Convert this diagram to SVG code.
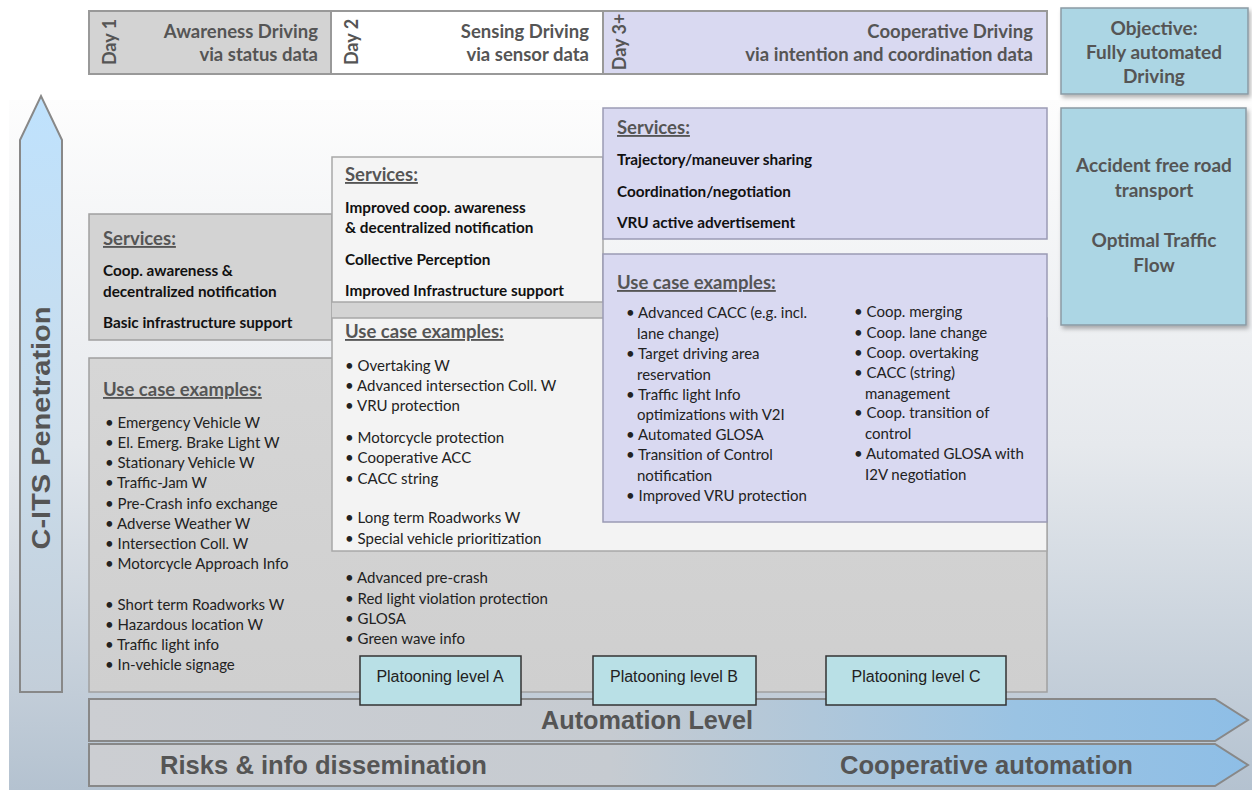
<svg xmlns="http://www.w3.org/2000/svg" width="1252" height="794" viewBox="0 0 1252 794">
<defs>
<linearGradient id="bg" x1="0" y1="0" x2="0" y2="1"><stop offset="0" stop-color="#fdfdfd"/><stop offset="0.5" stop-color="#e6e9ed"/><stop offset="1" stop-color="#b4c2d0"/></linearGradient>
<linearGradient id="vArrow" x1="0" y1="0" x2="0" y2="1"><stop offset="0" stop-color="#bfe2fd"/><stop offset="0.6" stop-color="#c8dbea"/><stop offset="1" stop-color="#c3ced9"/></linearGradient>
<linearGradient id="hArrow" x1="0" y1="0" x2="1" y2="0"><stop offset="0" stop-color="#ccced2"/><stop offset="0.45" stop-color="#c6cbd1"/><stop offset="0.8" stop-color="#9ac3e3"/><stop offset="1" stop-color="#8ebee6"/></linearGradient>
<linearGradient id="grayBox" x1="0" y1="0" x2="0" y2="1"><stop offset="0" stop-color="#d6d6d6"/><stop offset="1" stop-color="#cfcfcf"/></linearGradient>
<filter id="sh" x="-10%" y="-10%" width="125%" height="125%"><feDropShadow dx="2" dy="3" stdDeviation="2" flood-color="#000" flood-opacity="0.3"/></filter>
</defs>
<style>
.hd{font-family:Lato,"Open Sans",sans-serif;font-weight:bold;font-size:18.5px;fill:#555}
.day{font-family:Lato,"Open Sans",sans-serif;font-weight:bold;font-size:18px;fill:#555}
.sv{font-family:Lato,"Open Sans",sans-serif;font-weight:bold;font-size:18.5px;fill:#555;text-decoration:underline}
.si{font-family:Lato,"Open Sans",sans-serif;font-weight:bold;font-size:15.3px;fill:#111}
.it{font-family:Lato,"Open Sans",sans-serif;font-size:15px;fill:#222}
.obj{font-family:Lato,"Open Sans",sans-serif;font-weight:bold;font-size:19px;fill:#555;text-anchor:middle}
.big{font-family:"Liberation Sans",Arial,sans-serif;font-weight:bold;font-size:25px;fill:#555}
.pl{font-family:"Liberation Sans",Arial,sans-serif;font-size:16px;fill:#222;text-anchor:middle}
.pbox{fill:#b9e0e6;stroke:#333;stroke-width:1.5}
</style>
<rect x="9" y="100" width="1243" height="690" fill="url(#bg)"/>

<g id="header-day1">
<rect x="89" y="11" width="242" height="63" fill="#d3d3d3" stroke="#999" stroke-width="2"/>
<text class="day" transform="translate(116,42) rotate(-90)" text-anchor="middle">Day 1</text>
<text class="hd" x="318" y="38" text-anchor="end">Awareness Driving</text>
<text class="hd" x="318" y="61" text-anchor="end">via status data</text>
</g>
<g id="header-day2">
<rect x="331" y="11" width="272" height="63" fill="#ffffff" stroke="#999" stroke-width="2"/>
<text class="day" transform="translate(358,42) rotate(-90)" text-anchor="middle">Day 2</text>
<text class="hd" x="589" y="38" text-anchor="end">Sensing Driving</text>
<text class="hd" x="589" y="61" text-anchor="end">via sensor data</text>
</g>
<g id="header-day3">
<rect x="603" y="11" width="444" height="63" fill="#d9d9f1" stroke="#999" stroke-width="2"/>
<text class="day" transform="translate(626,42) rotate(-90)" text-anchor="middle">Day 3+</text>
<text class="hd" x="1033" y="38" text-anchor="end">Cooperative Driving</text>
<text class="hd" x="1033" y="61" text-anchor="end">via intention and coordination data</text>
</g>

<g id="objective">
<rect x="1061" y="8" width="187" height="86" fill="#acd6e4" stroke="#8a9aa4" stroke-width="1.5" filter="url(#sh)"/>
<text class="obj" x="1154" y="35">Objective:</text>
<text class="obj" x="1154" y="59">Fully automated</text>
<text class="obj" x="1154" y="83">Driving</text>
</g>
<g id="goals">
<rect x="1061" y="108" width="185" height="217" fill="#acd6e4" stroke="#8a9aa4" stroke-width="1.5" filter="url(#sh)"/>
<text class="obj" x="1154" y="172">Accident free road</text>
<text class="obj" x="1154" y="197">transport</text>
<text class="obj" x="1154" y="247">Optimal Traffic</text>
<text class="obj" x="1154" y="272">Flow</text>
</g>

<g id="penetration-arrow">
<polygon points="20,692 20,140 41,96 62,140 62,692" fill="url(#vArrow)" stroke="#888" stroke-width="2"/>
<text class="big" transform="translate(50,428) rotate(-90)" text-anchor="middle" font-size="26" textLength="243" lengthAdjust="spacingAndGlyphs">C-ITS Penetration</text>
</g>

<g id="day1-services">
<rect x="89" y="214" width="243" height="126" fill="#d3d3d3" stroke="#a0a0a0" stroke-width="1.5"/>
<text class="sv" x="103" y="245">Services:</text>
<text class="si" x="103" y="276">Coop. awareness &amp;</text>
<text class="si" x="103" y="297">decentralized notification</text>
<text class="si" x="103" y="328">Basic infrastructure support</text>
</g>

<g id="day1-usecases">
<rect x="332" y="296" width="271" height="62" fill="#d3d3d3"/>
<rect x="89" y="358" width="958" height="334" fill="url(#grayBox)" stroke="#a0a0a0" stroke-width="1.5"/>
<text class="sv" x="103" y="396">Use case examples:</text>
<g class="it">
<text x="105" y="428">• Emergency Vehicle W</text>
<text x="105" y="448">• El. Emerg. Brake Light W</text>
<text x="105" y="468">• Stationary Vehicle W</text>
<text x="105" y="488">• Traffic-Jam W</text>
<text x="105" y="509">• Pre-Crash info exchange</text>
<text x="105" y="529">• Adverse Weather W</text>
<text x="105" y="549">• Intersection Coll. W</text>
<text x="105" y="569">• Motorcycle Approach Info</text>
<text x="105" y="610">• Short term Roadworks W</text>
<text x="105" y="630">• Hazardous location W</text>
<text x="105" y="650">• Traffic light info</text>
<text x="105" y="670">• In-vehicle signage</text>
<text x="345" y="583">• Advanced pre-crash</text>
<text x="345" y="604">• Red light violation protection</text>
<text x="345" y="624">• GLOSA</text>
<text x="345" y="644">• Green wave info</text>
</g>
</g>

<g id="day2-services">
<rect x="332" y="157" width="271" height="145" fill="#f4f4f4" stroke="#a8a8a8" stroke-width="1.5"/>
<text class="sv" x="345" y="181">Services:</text>
<text class="si" x="345" y="213">Improved coop. awareness</text>
<text class="si" x="345" y="233">&amp; decentralized notification</text>
<text class="si" x="345" y="265">Collective Perception</text>
<text class="si" x="345" y="296">Improved Infrastructure support</text>
</g>

<g id="day2-usecases">
<rect x="332" y="318" width="715" height="233" fill="#f3f3f3" stroke="#a8a8a8" stroke-width="1.5"/>
<text class="sv" x="345" y="338">Use case examples:</text>
<g class="it">
<text x="345" y="371">• Overtaking W</text>
<text x="345" y="391">• Advanced intersection Coll. W</text>
<text x="345" y="411">• VRU protection</text>
<text x="345" y="443">• Motorcycle protection</text>
<text x="345" y="463">• Cooperative ACC</text>
<text x="345" y="484">• CACC string</text>
<text x="345" y="523">• Long term Roadworks W</text>
<text x="345" y="544">• Special vehicle prioritization</text>
</g>
</g>

<g id="day3-services">
<rect x="603" y="108" width="444" height="131" fill="#d9d9f1" stroke="#9a9ab4" stroke-width="1.5"/>
<text class="sv" x="617" y="134">Services:</text>
<text class="si" x="617" y="165">Trajectory/maneuver sharing</text>
<text class="si" x="617" y="197">Coordination/negotiation</text>
<text class="si" x="617" y="228">VRU active advertisement</text>
</g>

<g id="day3-usecases">
<rect x="603" y="254" width="444" height="268" fill="#d9d9f1" stroke="#9a9ab4" stroke-width="1.5"/>
<text class="sv" x="617" y="289">Use case examples:</text>
<g class="it">
<text x="626" y="318">• Advanced CACC (e.g. incl.</text>
<text x="637" y="339">lane change)</text>
<text x="626" y="359">• Target driving area</text>
<text x="637" y="380">reservation</text>
<text x="626" y="400">• Traffic light Info</text>
<text x="637" y="420">optimizations with V2I</text>
<text x="626" y="440">• Automated GLOSA</text>
<text x="626" y="460">• Transition of Control</text>
<text x="637" y="481">notification</text>
<text x="626" y="501">• Improved VRU protection</text>
<text x="854" y="317">• Coop. merging</text>
<text x="854" y="338">• Coop. lane change</text>
<text x="854" y="358">• Coop. overtaking</text>
<text x="854" y="378">• CACC (string)</text>
<text x="865" y="399">management</text>
<text x="854" y="418">• Coop. transition of</text>
<text x="865" y="439">control</text>
<text x="854" y="459">• Automated GLOSA with</text>
<text x="865" y="480">I2V negotiation</text>
</g>
</g>

<g id="automation-arrow">
<polygon points="89,699 1215,699 1248,720 1215,741 89,741" fill="url(#hArrow)" stroke="#888" stroke-width="2"/>
<text class="big" x="647" y="729" text-anchor="middle" textLength="212" lengthAdjust="spacingAndGlyphs">Automation Level</text>
</g>
<g id="dissemination-arrow">
<polygon points="89,744 1215,744 1248,765 1215,786 89,786" fill="url(#hArrow)" stroke="#888" stroke-width="2"/>
<text class="big" x="160" y="774" textLength="327" lengthAdjust="spacingAndGlyphs">Risks &amp; info dissemination</text>
<text class="big" x="840" y="774" textLength="293" lengthAdjust="spacingAndGlyphs">Cooperative automation</text>
</g>

<g id="platoon-a"><rect class="pbox" x="360" y="656" width="161" height="49"/><text class="pl" x="440" y="682">Platooning level A</text></g>
<g id="platoon-b"><rect class="pbox" x="593" y="656" width="163" height="49"/><text class="pl" x="674" y="682">Platooning level B</text></g>
<g id="platoon-c"><rect class="pbox" x="826" y="656" width="180" height="49"/><text class="pl" x="916" y="682">Platooning level C</text></g>
</svg>
